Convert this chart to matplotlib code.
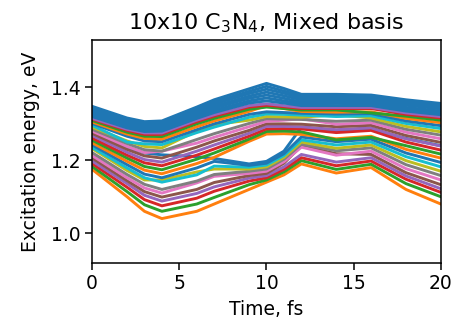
import matplotlib
matplotlib.use("Agg")
import matplotlib.pyplot as plt

# time grid (fs)
t_fs = [0, 2, 3, 4, 6, 7, 9, 10, 11, 12, 14, 16, 18, 20]

# state that dips through the band between 7 and 12 fs
e_cross = [1.270, 1.235, 1.220, 1.215, 1.210, 1.205, 1.190, 1.197, 1.225, 1.290, 1.280, 1.285, 1.260, 1.240]

# lower / middle excited states (eV)
e_lower = [
    [1.175, 1.100, 1.060, 1.040, 1.060, 1.080, 1.120, 1.140, 1.160, 1.190, 1.165, 1.180, 1.120, 1.080],
    [1.183, 1.114, 1.078, 1.060, 1.080, 1.098, 1.133, 1.146, 1.168, 1.199, 1.175, 1.189, 1.136, 1.100],
    [1.191, 1.126, 1.092, 1.075, 1.096, 1.115, 1.143, 1.152, 1.175, 1.207, 1.185, 1.198, 1.148, 1.112],
    [1.198, 1.136, 1.104, 1.088, 1.109, 1.127, 1.151, 1.158, 1.182, 1.216, 1.195, 1.207, 1.157, 1.122],
    [1.206, 1.144, 1.114, 1.099, 1.120, 1.139, 1.158, 1.164, 1.192, 1.240, 1.218, 1.216, 1.166, 1.133],
    [1.213, 1.152, 1.124, 1.110, 1.138, 1.156, 1.164, 1.170, 1.196, 1.236, 1.214, 1.225, 1.177, 1.146],
    [1.221, 1.161, 1.134, 1.120, 1.143, 1.161, 1.170, 1.176, 1.203, 1.244, 1.226, 1.234, 1.188, 1.158],
    [1.232, 1.172, 1.146, 1.146, 1.168, 1.176, 1.176, 1.182, 1.208, 1.250, 1.233, 1.242, 1.199, 1.170],
    [1.235, 1.179, 1.152, 1.140, 1.160, 1.184, 1.181, 1.187, 1.213, 1.256, 1.242, 1.250, 1.210, 1.182],
    [1.242, 1.188, 1.162, 1.152, 1.179, 1.197, 1.186, 1.192, 1.218, 1.264, 1.251, 1.258, 1.220, 1.194],
    [1.248, 1.197, 1.173, 1.163, 1.191, 1.208, 1.252, 1.272, 1.273, 1.271, 1.259, 1.266, 1.230, 1.206],
    [1.255, 1.206, 1.183, 1.174, 1.203, 1.220, 1.258, 1.279, 1.280, 1.278, 1.256, 1.263, 1.240, 1.217],
    [1.261, 1.214, 1.193, 1.185, 1.214, 1.231, 1.266, 1.286, 1.287, 1.286, 1.276, 1.282, 1.250, 1.228],
    [1.268, 1.222, 1.202, 1.195, 1.225, 1.242, 1.274, 1.293, 1.293, 1.292, 1.284, 1.289, 1.259, 1.239],
    [1.274, 1.230, 1.212, 1.206, 1.236, 1.253, 1.282, 1.300, 1.300, 1.299, 1.292, 1.296, 1.268, 1.249],
    [1.280, 1.238, 1.221, 1.225, 1.247, 1.263, 1.292, 1.307, 1.310, 1.314, 1.299, 1.303, 1.277, 1.259],
    [1.285, 1.246, 1.229, 1.225, 1.257, 1.273, 1.301, 1.314, 1.313, 1.312, 1.307, 1.310, 1.285, 1.269],
    [1.291, 1.253, 1.238, 1.234, 1.280, 1.298, 1.310, 1.320, 1.319, 1.318, 1.325, 1.316, 1.293, 1.278],
    [1.296, 1.250, 1.245, 1.243, 1.276, 1.291, 1.318, 1.327, 1.326, 1.324, 1.320, 1.322, 1.301, 1.287],
    [1.301, 1.266, 1.253, 1.251, 1.284, 1.300, 1.326, 1.333, 1.331, 1.329, 1.327, 1.328, 1.308, 1.295],
    [1.305, 1.272, 1.260, 1.258, 1.292, 1.308, 1.334, 1.350, 1.342, 1.334, 1.332, 1.333, 1.315, 1.303],
    [1.309, 1.277, 1.266, 1.265, 1.300, 1.315, 1.340, 1.346, 1.342, 1.338, 1.338, 1.330, 1.321, 1.310],
    [1.313, 1.282, 1.271, 1.271, 1.306, 1.321, 1.346, 1.351, 1.347, 1.342, 1.342, 1.342, 1.326, 1.316],
    [1.315, 1.285, 1.275, 1.275, 1.310, 1.325, 1.350, 1.355, 1.350, 1.345, 1.345, 1.345, 1.330, 1.320],
]

# dense group of upper states
e_upper = [
    [1.320, 1.289, 1.279, 1.280, 1.315, 1.331, 1.357, 1.363, 1.357, 1.350, 1.350, 1.350, 1.335, 1.325],
    [1.324, 1.294, 1.284, 1.284, 1.320, 1.337, 1.363, 1.371, 1.363, 1.355, 1.356, 1.355, 1.340, 1.330],
    [1.329, 1.298, 1.288, 1.289, 1.325, 1.343, 1.370, 1.379, 1.370, 1.360, 1.361, 1.360, 1.345, 1.335],
    [1.334, 1.303, 1.293, 1.294, 1.331, 1.348, 1.376, 1.387, 1.377, 1.366, 1.366, 1.364, 1.351, 1.341],
    [1.339, 1.307, 1.297, 1.299, 1.336, 1.354, 1.383, 1.395, 1.384, 1.371, 1.371, 1.369, 1.356, 1.346],
    [1.343, 1.312, 1.302, 1.303, 1.341, 1.360, 1.389, 1.403, 1.390, 1.376, 1.376, 1.374, 1.361, 1.351],
    [1.348, 1.316, 1.306, 1.308, 1.346, 1.366, 1.396, 1.411, 1.397, 1.381, 1.381, 1.379, 1.366, 1.356],
]

plt.rcParams['font.size'] = 13.5

fig = plt.figure(figsize=(4.54, 3.28), dpi=100)
ax = fig.add_axes([0.203, 0.198, 0.768, 0.680])

states = [e_cross] + e_lower
for i, e in enumerate(states):
    ax.plot(t_fs, e, color=f"C{i % 10}", lw=2.1)
for e in e_upper:
    ax.plot(t_fs, e, color="C0", lw=2.1)

ax.set_xlim(0, 20)
ax.set_ylim(0.918, 1.53)
ax.set_xticks([0, 5, 10, 15, 20])
ax.set_yticks([1.0, 1.2, 1.4])
ax.tick_params(length=4.7, width=1.1)
for s in ax.spines.values():
    s.set_linewidth(1.1)
ax.set_xlabel('Time, fs', labelpad=5)
ax.set_ylabel('Excitation energy, eV', labelpad=8)
ax.set_title('10x10 C$_3$N$_4$, Mixed basis', fontsize=16, pad=8)

fig.savefig('out.png', dpi=100)
